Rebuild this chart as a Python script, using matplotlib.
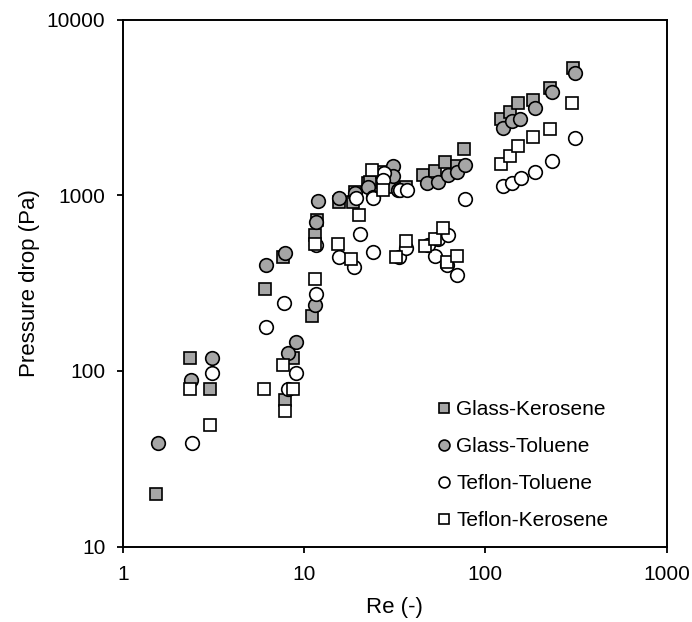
import matplotlib
matplotlib.use("Agg")
import matplotlib.pyplot as plt

plt.rcParams['font.family'] = ['Liberation Sans', 'DejaVu Sans']

# Glass-Kerosene (gray squares)
gk_re = [1.53, 2.35, 3.03, 6.1, 7.7, 7.86, 8.66, 11.1, 11.5, 11.75, 15.5, 18.7, 19.1,
         22.6, 23.1, 26.8, 31.0, 36.5, 45.5, 52.8, 60.0, 69.5, 76.0,
         121.6, 137.0, 152.0, 184.0, 227.5, 305.0]
gk_dp = [20, 118, 79, 293, 448, 68, 118, 206, 594, 723, 920, 920, 1050,
         1170, 1194, 1362, 1119, 1119, 1306, 1380, 1540, 1470, 1830,
         2711, 2994, 3340, 3485, 4064, 5285]

# Glass-Toluene (gray circles)
gt_re = [1.57, 2.39, 3.12, 6.2, 7.86, 8.2, 9.03, 11.5, 11.6, 12.0, 15.5, 19.1,
         22.6, 24.1, 31.0, 31.0, 33.1, 47.5, 55.0, 62.5, 69.5, 77.3,
         124.7, 139.8, 155.4, 188.0, 234.0, 312.5]
gt_dp = [39, 89, 118, 401, 468, 127, 147, 238, 701, 931, 969, 1035,
         1119, 983, 1470, 1288, 1072, 1170, 1190, 1306, 1362, 1486,
         2405, 2660, 2711, 3126, 3854, 4945]

# Teflon-Toluene (white circles)
tt_re = [2.4, 3.12, 6.2, 7.8, 8.2, 9.03, 11.6, 11.6, 15.5, 18.9, 20.4, 23.9,
         19.3, 23.9, 27.6, 27.4, 33.7, 36.8, 33.5, 36.5, 48.0, 55.0, 52.8,
         62.5, 61.2, 69.5, 77.3, 124.7, 141.0, 157.0, 188.0, 234.0, 312.5]
tt_dp = [39, 98, 177, 245, 79, 98, 274, 521, 444, 393, 603, 474,
         960, 962, 1345, 1222, 1072, 1072, 448, 503, 521, 564, 453,
         594, 401, 352, 948, 1135, 1180, 1250, 1362, 1567, 2129]

# Teflon-Kerosene (white squares)
tk_re = [2.35, 3.03, 6.05, 7.63, 7.86, 8.66, 11.5, 11.5, 15.3, 18.2, 20.1, 23.6,
         27.4, 32.2, 36.5, 46.5, 52.8, 58.7, 61.2, 70.1,
         121.6, 137.0, 152.0, 184.0, 227.5, 302.0]
tk_dp = [79, 49, 79, 108, 59, 79, 334, 530, 530, 434, 773, 1393,
         1072, 448, 550, 517, 564, 654, 419, 453,
         1508, 1674, 1909, 2158, 2377, 3340]

series = [
    ("Glass-Kerosene", gk_re, gk_dp, 's', '#a6a6a6', 9.3),
    ("Glass-Toluene", gt_re, gt_dp, 'o', '#a6a6a6', 9.8),
    ("Teflon-Toluene", tt_re, tt_dp, 'o', 'white', 9.8),
    ("Teflon-Kerosene", tk_re, tk_dp, 's', 'white', 9.3),
]

fig = plt.figure(figsize=(6.92, 6.22), dpi=100)
ax = fig.add_axes([0.1773, 0.1211, 0.7861, 0.8475])

for label, xs, ys, m, fc, ms in series:
    ax.plot(xs, ys, linestyle='none', marker=m, markersize=ms,
            markerfacecolor=fc, markeredgecolor='black', markeredgewidth=1.2,
            label=label)

ax.set_xscale('log')
ax.set_yscale('log')
ax.set_xlim(1, 1000)
ax.set_ylim(10, 10000)
ax.set_xticks([1, 10, 100, 1000])
ax.set_xticklabels(['1', '10', '100', '1000'])
ax.set_yticks([10, 100, 1000, 10000])
ax.set_yticklabels(['10', '100', '1000', '10000'])
ax.minorticks_off()
ax.tick_params(axis='both', which='major', direction='out', length=4.5, width=1.3,
               labelsize=15, colors='black')
ax.tick_params(axis='x', pad=9)
ax.tick_params(axis='y', pad=8)
for s in ax.spines.values():
    s.set_linewidth(1.4)

ax.set_xlabel('Re (-)', fontsize=16, labelpad=9)
ax.set_ylabel('Pressure drop (Pa)', fontsize=16, labelpad=5)

leg = ax.legend(loc='lower right', bbox_to_anchor=(0.92, 0.004), frameon=False,
                fontsize=15, markerscale=0.8, handletextpad=0.1,
                labelspacing=0.86, handlelength=1.0, borderaxespad=0.3)

fig.savefig('out.png', dpi=100)
